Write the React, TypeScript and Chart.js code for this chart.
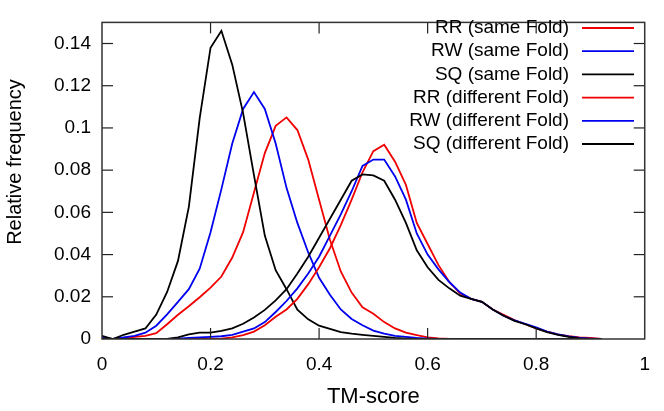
import React, { useEffect, useRef } from "react";
import { Chart, registerables } from "chart.js";

Chart.register(...registerables);

const tmScore = [
  0, 0.02, 0.04, 0.06, 0.08, 0.1, 0.12, 0.14, 0.16, 0.18,
  0.2, 0.22, 0.24, 0.26, 0.28, 0.3, 0.32, 0.34, 0.36, 0.38,
  0.4, 0.42, 0.44, 0.46, 0.48, 0.5, 0.52, 0.54, 0.56, 0.58,
  0.6, 0.62, 0.64, 0.66, 0.68, 0.7, 0.72, 0.74, 0.76, 0.78,
  0.8, 0.82, 0.84, 0.86, 0.88, 0.9, 0.92,
];

const rrSame = [
  0.0005, 0, 0.0005, 0.001, 0.0015, 0.0028, 0.007, 0.0115, 0.0155, 0.0198,
  0.0243, 0.0296, 0.0386, 0.0506, 0.0694, 0.0881, 0.101, 0.105, 0.099, 0.085,
  0.066, 0.047, 0.032, 0.022, 0.015, 0.012, 0.008, 0.005, 0.003, 0.0018,
  0.0008, 0.0003, 0, 0, 0, 0, 0, 0, 0, 0,
  0, 0, 0, 0, 0, 0, 0,
];

const rwSame = [
  0.0005, 0, 0.0008, 0.0015, 0.003, 0.0063, 0.0117, 0.0176, 0.0236, 0.0333,
  0.0506, 0.071, 0.0926, 0.109, 0.117, 0.109, 0.0926, 0.0716, 0.055, 0.041,
  0.029, 0.021, 0.014, 0.0095, 0.0065, 0.004, 0.0025, 0.0015, 0.001, 0.0005,
  0.0002, 0, 0, 0, 0, 0, 0, 0, 0, 0,
  0, 0, 0, 0, 0, 0, 0,
];

const sqSame = [
  0.0015, 0, 0.002, 0.0035, 0.005, 0.0116, 0.0223, 0.037, 0.0626, 0.1046,
  0.138, 0.146, 0.13, 0.107, 0.0776, 0.049, 0.0326, 0.0236, 0.0139, 0.0093,
  0.0063, 0.0048, 0.0033, 0.0025, 0.002, 0.0015, 0.001, 0.0005, 0.0002, 0,
  0, 0, 0, 0, 0, 0, 0, 0, 0, 0,
  0, 0, 0, 0, 0, 0, 0,
];

const rrDiff = [
  0, 0, 0, 0, 0, 0, 0, 0, 0, 0,
  0, 0.0002, 0.0008, 0.0018, 0.0035, 0.0065, 0.0105, 0.014, 0.019, 0.026,
  0.034, 0.043, 0.054, 0.066, 0.079, 0.089, 0.092, 0.084, 0.073, 0.055,
  0.045, 0.035, 0.027, 0.0215, 0.019, 0.0176, 0.014, 0.0115, 0.009, 0.007,
  0.005, 0.0035, 0.0022, 0.0013, 0.0008, 0.0005, 0,
];

const rwDiff = [
  0, 0, 0, 0, 0, 0, 0, 0.0002, 0.0005, 0.0008,
  0.001, 0.0013, 0.002, 0.0035, 0.005, 0.008, 0.0128, 0.018, 0.024, 0.031,
  0.039, 0.049, 0.059, 0.07, 0.082, 0.085, 0.085, 0.077, 0.066, 0.05,
  0.04, 0.033, 0.027, 0.022, 0.019, 0.0176, 0.014, 0.011, 0.0088, 0.0072,
  0.0055, 0.0035, 0.0022, 0.0012, 0.0005, 0.0002, 0,
];

const sqDiff = [
  0, 0, 0, 0, 0, 0, 0, 0.0008, 0.0022, 0.003,
  0.003, 0.0038, 0.005, 0.0072, 0.0102, 0.0138, 0.0183, 0.0236, 0.031, 0.039,
  0.048, 0.057, 0.066, 0.075, 0.078, 0.0775, 0.075, 0.066, 0.055, 0.042,
  0.034, 0.028, 0.024, 0.0205, 0.019, 0.0176, 0.014, 0.011, 0.0086, 0.007,
  0.005, 0.0033, 0.002, 0.001, 0.0003, 0, 0,
];

const seriesLabels = [
  "RR (same Fold)",
  "RW (same Fold)",
  "SQ (same Fold)",
  "RR (different Fold)",
  "RW (different Fold)",
  "SQ (different Fold)",
];
const seriesValues = [rrSame, rwSame, sqSame, rrDiff, rwDiff, sqDiff];
const seriesColors = ["#f00000", "#0000f0", "#000000", "#f00000", "#0000f0", "#000000"];

const xTitle = "TM-score";
const yTitle = "Relative frequency";
const FONT = "'Liberation Sans', Arial, Helvetica, sans-serif";

const fmt = (v: number) => String(Math.round(v * 100) / 100);

const framePlugin = {
  id: "frameTicks",
  afterDatasetsDraw(chart: any) {
    const ctx: CanvasRenderingContext2D = chart.ctx;
    const area = chart.chartArea;
    const L = area.left, R = area.right, T = area.top, B = area.bottom;
    const xs = chart.scales.x;
    const ys = chart.scales.y;
    const tl = 11;
    ctx.save();
    ctx.strokeStyle = "#222222";
    ctx.lineWidth = 1.2;
    for (let i = 0; i < ys.ticks.length; i++) {
      const py = ys.getPixelForValue(ys.ticks[i].value);
      if (py > B - 2 || py < T + 2) continue;
      ctx.beginPath();
      ctx.moveTo(L, py);
      ctx.lineTo(L + tl, py);
      ctx.stroke();
      ctx.beginPath();
      ctx.moveTo(R, py);
      ctx.lineTo(R - tl, py);
      ctx.stroke();
    }
    for (let i = 0; i < xs.ticks.length; i++) {
      const px = xs.getPixelForValue(xs.ticks[i].value);
      if (px < L + 2 || px > R - 2) continue;
      ctx.beginPath();
      ctx.moveTo(px, B);
      ctx.lineTo(px, B - tl);
      ctx.stroke();
      ctx.beginPath();
      ctx.moveTo(px, T);
      ctx.lineTo(px, T + tl);
      ctx.stroke();
    }
    ctx.lineWidth = 1.5;
    ctx.strokeStyle = "#333333";
    ctx.strokeRect(L, T, R - L, B - T);
    ctx.restore();
  },
  afterDraw(chart: any) {
    const ctx: CanvasRenderingContext2D = chart.ctx;
    const area = chart.chartArea;
    ctx.save();
    ctx.fillStyle = "#000";
    ctx.font = `22px ${FONT}`;
    ctx.textAlign = "center";
    ctx.textBaseline = "middle";
    ctx.fillText(xTitle, (area.left + area.right) / 2, 397);
    ctx.save();
    ctx.translate(15, 162);
    ctx.rotate(-Math.PI / 2);
    ctx.font = `20px ${FONT}`;
    ctx.fillText(yTitle, 0, 0);
    ctx.restore();
    ctx.font = `19px ${FONT}`;
    ctx.textAlign = "right";
    chart.data.datasets.forEach((ds: any, i: number) => {
      const y = 28 + i * 23.2;
      ctx.fillStyle = "#000";
      ctx.fillText(ds.label, 569, y);
      ctx.strokeStyle = ds.borderColor;
      ctx.lineWidth = 1.8;
      ctx.beginPath();
      ctx.moveTo(582, y);
      ctx.lineTo(634, y);
      ctx.stroke();
    });
    ctx.restore();
  },
};

export default function App() {
  const ref = useRef<HTMLCanvasElement | null>(null);
  useEffect(() => {
    if (!ref.current) return;
    const datasets = seriesValues.map((vals, i) => ({
      label: seriesLabels[i],
      data: vals.map((v, j) => ({ x: tmScore[j], y: v })),
      borderColor: seriesColors[i],
      backgroundColor: seriesColors[i],
      borderWidth: 1.8,
      pointRadius: 0,
      tension: 0,
      fill: false,
      order: seriesValues.length - i,
    }));
    const chart = new Chart(ref.current, {
      type: "line",
      data: { datasets },
      options: {
        animation: false,
        responsive: false,
        maintainAspectRatio: false,
        layout: { padding: { top: 5, right: 7, left: 0, bottom: 0 } },
        plugins: {
          legend: { display: false },
          tooltip: { enabled: false },
        },
        scales: {
          x: {
            type: "linear",
            min: 0,
            max: 1,
            grid: { display: false, drawTicks: false },
            border: { display: false },
            ticks: {
              stepSize: 0.2,
              padding: 14,
              color: "#000",
              font: { size: 19, family: FONT },
              maxRotation: 0,
              callback: (v: any) => fmt(Number(v)),
            },
            afterFit: (s: any) => {
              s.height = 72;
            },
          },
          y: {
            type: "linear",
            min: 0,
            max: 0.15,
            grid: { display: false, drawTicks: false },
            border: { display: false },
            ticks: {
              stepSize: 0.02,
              includeBounds: false,
              padding: 11,
              color: "#000",
              font: { size: 19, family: FONT },
              callback: (v: any) => fmt(Number(v)),
            },
            afterFit: (s: any) => {
              s.width = 102;
            },
          },
        },
      },
      plugins: [framePlugin],
    });
    return () => chart.destroy();
  }, []);
  return (
    <div style={{ position: "absolute", left: 0, top: 0, width: 664, height: 411, background: "#fff" }}>
      <canvas ref={ref} width={664} height={411} style={{ width: 664, height: 411 }} />
    </div>
  );
}
